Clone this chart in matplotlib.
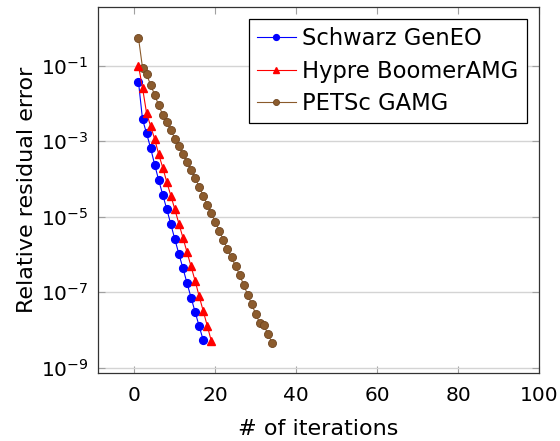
import matplotlib
matplotlib.use("Agg")
import matplotlib.pyplot as plt
from matplotlib.ticker import FixedLocator, NullLocator

plt.rcParams['font.family'] = ['DejaVu Sans']
plt.rcParams['mathtext.fontset'] = 'dejavusans'
plt.rcParams['mathtext.default'] = 'regular'

# Data
iters_geneo = list(range(1, 18))
res_geneo = [3.8e-2, 3.8e-3, 1.62e-3, 6.6e-4, 2.4e-4, 9.3e-5, 3.8e-5, 1.58e-5,
             6.3e-6, 2.5e-6, 1.02e-6, 4.3e-7, 1.74e-7, 7.2e-8, 3.0e-8, 1.26e-8, 5.4e-9]

iters_hypre = list(range(1, 20))
res_hypre = [1.0e-1, 2.6e-2, 5.6e-3, 2.5e-3, 1.15e-3, 4.5e-4, 2.0e-4, 8.3e-5, 3.6e-5,
             1.55e-5, 6.5e-6, 2.75e-6, 1.15e-6, 4.8e-7, 2.0e-7, 7.8e-8, 3.2e-8, 1.29e-8, 5.1e-9]

iters_gamg = list(range(1, 35))
res_gamg = [0.55, 8.9e-2, 5.9e-2, 3.1e-2, 1.7e-2, 8.9e-3, 5.0e-3, 3.2e-3, 2.0e-3, 1.17e-3,
            7.4e-4, 4.6e-4, 2.8e-4, 1.74e-4, 1.07e-4, 6.2e-5, 3.6e-5, 2.1e-5, 1.23e-5, 7.2e-6,
            4.2e-6, 2.4e-6, 1.38e-6, 8.3e-7, 4.9e-7, 2.9e-7, 1.55e-7, 8.5e-8, 4.8e-8, 2.6e-8,
            1.51e-8, 1.32e-8, 7.8e-9, 4.6e-9]

labels = ["Schwarz GenEO", "Hypre BoomerAMG", "PETSc GAMG"]
xticks = [0, 20, 40, 60, 80, 100]
yticks = [1e-9, 1e-7, 1e-5, 1e-3, 1e-1]

fig = plt.figure(figsize=(5.6, 4.41), dpi=100)
ax = fig.add_axes([0.175, 0.1535, 0.7875, 0.8313])

ax.plot(iters_geneo, res_geneo, color='blue', lw=0.8, marker='o', ms=5.6,
        mfc='blue', mec='blue', label=labels[0], zorder=3)
ax.plot(iters_hypre, res_hypre, color='red', lw=0.8, marker='^', ms=5.6,
        mfc='red', mec='red', label=labels[1], zorder=3)
ax.plot(iters_gamg, res_gamg, color='#8a5a2b', lw=0.8, marker='o', ms=5.8,
        mfc='#8c5c2e', mec='#6e4520', mew=0.6, label=labels[2], zorder=2)

ax.set_yscale('log')
ax.set_xlim(-9, 100)
ax.set_ylim(10**-9.15, 10**0.563)
ax.xaxis.set_major_locator(FixedLocator(xticks))
ax.yaxis.set_major_locator(FixedLocator(yticks))
ax.yaxis.set_minor_locator(NullLocator())
ax.xaxis.set_minor_locator(NullLocator())

ax.grid(axis='y', color='#d4d4d4', lw=1.0, zorder=0)
ax.set_axisbelow(True)
ax.tick_params(axis='both', which='major', direction='in', length=5, width=0.8,
               color='#a0a0a0', top=True, right=True, labelsize=14.5)
ax.tick_params(axis='x', pad=9)
ax.tick_params(axis='y', pad=7)
for s in ax.spines.values():
    s.set_color('#333333')
    s.set_linewidth(0.9)

ax.set_xlabel('# of iterations', fontsize=16, labelpad=10)
ax.set_ylabel('Relative residual error', fontsize=16, labelpad=3)

leg = ax.legend(loc='upper right', fontsize=16.3, frameon=True, fancybox=False,
                edgecolor='black', framealpha=1, borderaxespad=0.55,
                handlelength=1.7, handletextpad=0.3, labelspacing=0.42,
                borderpad=0.35, markerscale=0.75)
leg.get_frame().set_linewidth(0.9)

fig.savefig('out.png', dpi=100)
